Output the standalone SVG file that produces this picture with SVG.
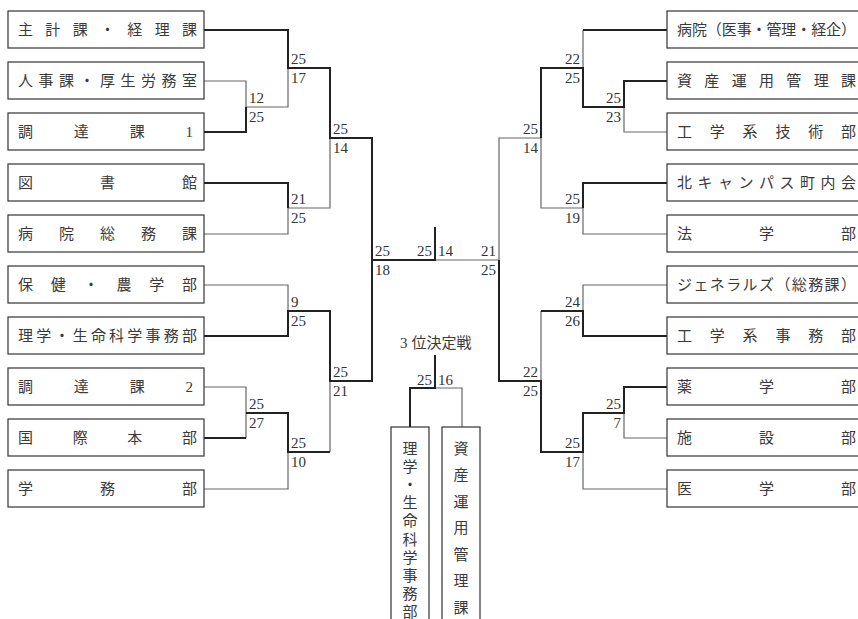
<svg xmlns="http://www.w3.org/2000/svg" width="858" height="619" viewBox="0 0 858 619">
<style>
.box{fill:#fff;stroke:#333;stroke-width:1.2}
.t{font-family:"Liberation Serif","Noto Sans CJK JP",serif;font-size:15px;fill:#3a3a3a}
.s{font-family:"Liberation Serif","Noto Sans CJK JP",serif;font-size:15px;fill:#333}
.e{text-anchor:end}
.m{text-anchor:middle}
.thick{fill:none;stroke:#222;stroke-width:2}
.thin{fill:none;stroke:#666;stroke-width:1.2}
</style>
<rect width="858" height="619" fill="#fff"/>
<g id="connectors">
<path class="thin" d="M204,81 H246 V107 H288 V68 M204,234 H288 V208 H330 V138 M204,285 H288 V311 M204,387 H246 V438 M204,489 H288 V452 M330,452 V381 M435,260 H499"/>
<path class="thin" d="M583,30 V68 M667,132 H624 V107 M667,234 H583 V208 H541 V138 H499 V260 M667,285 H583 V311 M541,311 V381 M667,438 H624 V413 M667,489 H583 V452"/>
<path class="thin" d="M435,388 H462 V427"/>
<path class="thick" d="M204,30 H288 V68 H330 V138 H372 V260 H435 V227 M204,132 H246 V107 M204,183 H288 V208 M204,336 H288 V311 H330 V381 H372 V260 M204,438 H246 M246,413 H288 V452 H330"/>
<path class="thick" d="M667,30 H583 M667,81 H624 V107 H583 V68 H541 V138 M667,183 H583 V208 M667,336 H583 V311 H541 M667,387 H624 V413 H583 V452 H541 V381 H499 V260"/>
<path class="thick" d="M435,355 V388 H410 V427"/>
</g>
<g id="scores">
<text class="s" x="249" y="103">12</text><text class="s" x="249" y="122">25</text>
<text class="s" x="291" y="64">25</text><text class="s" x="291" y="83">17</text>
<text class="s" x="291" y="204">21</text><text class="s" x="291" y="223">25</text>
<text class="s" x="333" y="134">25</text><text class="s" x="333" y="153">14</text>
<text class="s" x="291" y="307">9</text><text class="s" x="291" y="326">25</text>
<text class="s" x="249" y="409">25</text><text class="s" x="249" y="428">27</text>
<text class="s" x="291" y="448">25</text><text class="s" x="291" y="467">10</text>
<text class="s" x="333" y="377">25</text><text class="s" x="333" y="396">21</text>
<text class="s" x="375" y="256">25</text><text class="s" x="375" y="275">18</text>
<text class="s e" x="432" y="256">25</text><text class="s" x="438" y="256">14</text>
<text class="s e" x="621" y="103">25</text><text class="s e" x="621" y="122">23</text>
<text class="s e" x="580" y="64">22</text><text class="s e" x="580" y="83">25</text>
<text class="s e" x="580" y="204">25</text><text class="s e" x="580" y="223">19</text>
<text class="s e" x="538" y="134">25</text><text class="s e" x="538" y="153">14</text>
<text class="s e" x="580" y="307">24</text><text class="s e" x="580" y="326">26</text>
<text class="s e" x="621" y="409">25</text><text class="s e" x="621" y="428">7</text>
<text class="s e" x="580" y="448">25</text><text class="s e" x="580" y="467">17</text>
<text class="s e" x="538" y="377">22</text><text class="s e" x="538" y="396">25</text>
<text class="s e" x="496" y="256">21</text><text class="s e" x="496" y="275">25</text>
<text class="s e" x="432" y="385">25</text><text class="s" x="438" y="385">16</text>
<text class="t" x="400" y="348">3<tspan dx="4">位決定戦</tspan></text>
</g>
<g id="L1"><rect class="box" x="8" y="11" width="196" height="37"/><text class="t" x="18" y="35" textLength="179" lengthAdjust="spacing">主計課・経理課</text></g>
<g id="L2"><rect class="box" x="8" y="62" width="196" height="37"/><text class="t" x="18" y="86" textLength="179" lengthAdjust="spacing">人事課・厚生労務室</text></g>
<g id="L3"><rect class="box" x="8" y="113" width="196" height="37"/><text class="t" x="18" y="137" textLength="175" lengthAdjust="spacing">調達課1</text></g>
<g id="L4"><rect class="box" x="8" y="164" width="196" height="37"/><text class="t" x="18" y="188" textLength="179" lengthAdjust="spacing">図書館</text></g>
<g id="L5"><rect class="box" x="8" y="215" width="196" height="37"/><text class="t" x="18" y="239" textLength="179" lengthAdjust="spacing">病院総務課</text></g>
<g id="L6"><rect class="box" x="8" y="266" width="196" height="37"/><text class="t" x="18" y="290" textLength="179" lengthAdjust="spacing">保健・農学部</text></g>
<g id="L7"><rect class="box" x="8" y="317" width="196" height="37"/><text class="t" x="18" y="341" textLength="179" lengthAdjust="spacing">理学・生命科学事務部</text></g>
<g id="L8"><rect class="box" x="8" y="368" width="196" height="37"/><text class="t" x="18" y="392" textLength="175" lengthAdjust="spacing">調達課2</text></g>
<g id="L9"><rect class="box" x="8" y="419" width="196" height="37"/><text class="t" x="18" y="443" textLength="179" lengthAdjust="spacing">国際本部</text></g>
<g id="L10"><rect class="box" x="8" y="470" width="196" height="37"/><text class="t" x="18" y="494" textLength="179" lengthAdjust="spacing">学務部</text></g>
<g id="R1"><rect class="box" x="667" y="11" width="196" height="37"/><text class="t" x="677" y="35" textLength="179" lengthAdjust="spacing">病院（医事・管理・経企）</text></g>
<g id="R2"><rect class="box" x="667" y="62" width="196" height="37"/><text class="t" x="677" y="86" textLength="179" lengthAdjust="spacing">資産運用管理課</text></g>
<g id="R3"><rect class="box" x="667" y="113" width="196" height="37"/><text class="t" x="677" y="137" textLength="179" lengthAdjust="spacing">工学系技術部</text></g>
<g id="R4"><rect class="box" x="667" y="164" width="196" height="37"/><text class="t" x="677" y="188" textLength="179" lengthAdjust="spacing">北キャンパス町内会</text></g>
<g id="R5"><rect class="box" x="667" y="215" width="196" height="37"/><text class="t" x="677" y="239" textLength="179" lengthAdjust="spacing">法学部</text></g>
<g id="R6"><rect class="box" x="667" y="266" width="196" height="37"/><text class="t" x="677" y="290" textLength="179" lengthAdjust="spacing">ジェネラルズ（総務課）</text></g>
<g id="R7"><rect class="box" x="667" y="317" width="196" height="37"/><text class="t" x="677" y="341" textLength="179" lengthAdjust="spacing">工学系事務部</text></g>
<g id="R8"><rect class="box" x="667" y="368" width="196" height="37"/><text class="t" x="677" y="392" textLength="179" lengthAdjust="spacing">薬学部</text></g>
<g id="R9"><rect class="box" x="667" y="419" width="196" height="37"/><text class="t" x="677" y="443" textLength="179" lengthAdjust="spacing">施設部</text></g>
<g id="R10"><rect class="box" x="667" y="470" width="196" height="37"/><text class="t" x="677" y="494" textLength="179" lengthAdjust="spacing">医学部</text></g>
<g id="T1"><rect class="box" x="391" y="427" width="38" height="200"/>
<text class="t m" x="410" y="453.5">理</text><text class="t m" x="410" y="471.7">学</text><text class="t m" x="410" y="489.9">・</text><text class="t m" x="410" y="508.1">生</text><text class="t m" x="410" y="526.3">命</text><text class="t m" x="410" y="544.5">科</text><text class="t m" x="410" y="562.7">学</text><text class="t m" x="410" y="580.9">事</text><text class="t m" x="410" y="599.1">務</text><text class="t m" x="410" y="617.3">部</text></g>
<g id="T2"><rect class="box" x="442" y="427" width="38" height="200"/>
<text class="t m" x="461" y="453.5">資</text><text class="t m" x="461" y="480">産</text><text class="t m" x="461" y="506.5">運</text><text class="t m" x="461" y="533">用</text><text class="t m" x="461" y="559.5">管</text><text class="t m" x="461" y="586">理</text><text class="t m" x="461" y="612.5">課</text></g>
</svg>
